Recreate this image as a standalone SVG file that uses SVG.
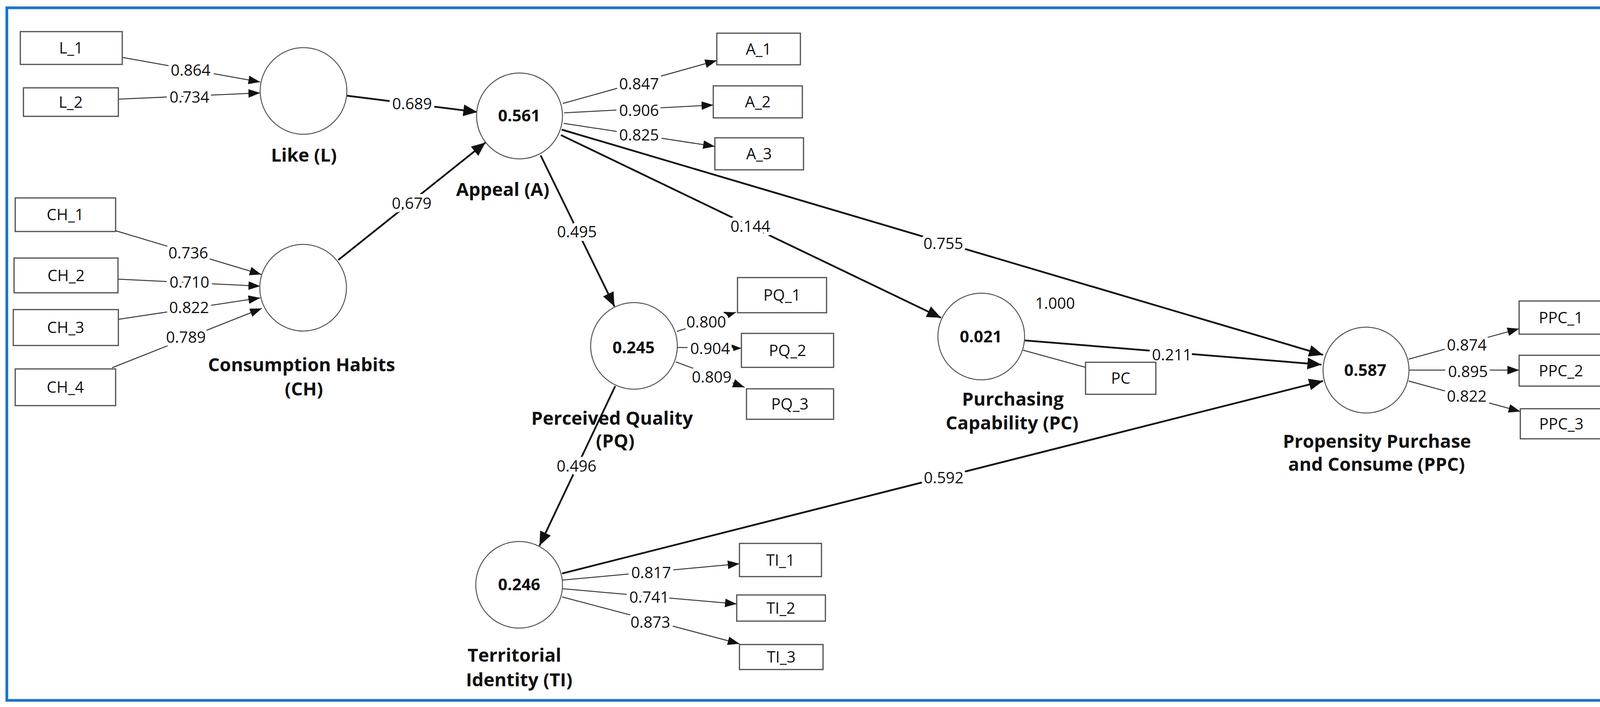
<svg xmlns="http://www.w3.org/2000/svg" width="4218" height="1811" viewBox="0 0 4218 1811">
<style>
.frame{fill:#fff;stroke:#1c74cc;stroke-width:7}
.box{fill:#fff;stroke:#4d4d4d;stroke-width:3}
.lv{fill:#fff;stroke:#555;stroke-width:2.5}
.ind{stroke:#3a3a3a;stroke-width:2.5;fill:none}
.str{stroke:#111;stroke-width:4.5;fill:none}
text{font-family:"Open Sans","Noto Sans","Liberation Sans",sans-serif;fill:#111}
.bt{font-size:40px;text-anchor:middle}
.num{font-size:40px;text-anchor:middle;stroke:#fff;stroke-width:18;paint-order:stroke;stroke-linejoin:round}
.val{font-size:42px;font-weight:bold;text-anchor:middle}
.name{font-size:47px;font-weight:bold;text-anchor:middle}
</style>
<defs>
<marker id="ah" markerUnits="userSpaceOnUse" markerWidth="40" markerHeight="32" refX="36" refY="15" orient="auto">
<path d="M0,0 L36,15 L0,30 z" fill="#111"/>
</marker>
<marker id="at" markerUnits="userSpaceOnUse" markerWidth="32" markerHeight="26" refX="30" refY="11" orient="auto">
<path d="M0,0 L30,11 L0,22 z" fill="#111"/>
</marker>
</defs>
<rect class="frame" x="17.5" y="20" width="4181" height="1774"/>
<g id="connectors">
<line class="ind" x1="313" y1="147" x2="666" y2="210" marker-end="url(#at)"/>
<line class="ind" x1="303" y1="254" x2="666" y2="238" marker-end="url(#at)"/>
<line class="ind" x1="296" y1="591" x2="669" y2="703" marker-end="url(#at)"/>
<line class="ind" x1="302" y1="715" x2="666" y2="733" marker-end="url(#at)"/>
<line class="ind" x1="303" y1="818" x2="666" y2="763" marker-end="url(#at)"/>
<line class="ind" x1="287" y1="942" x2="670" y2="790" marker-end="url(#at)"/>
<line class="ind" x1="1441" y1="265" x2="1835" y2="155" marker-end="url(#at)"/>
<line class="ind" x1="1444" y1="289" x2="1826" y2="269" marker-end="url(#at)"/>
<line class="ind" x1="1443" y1="316" x2="1830" y2="375" marker-end="url(#at)"/>
<line class="ind" x1="1733" y1="849" x2="1884" y2="800" marker-end="url(#at)"/>
<line class="ind" x1="1735" y1="890" x2="1898" y2="892" marker-end="url(#at)"/>
<line class="ind" x1="1730" y1="927" x2="1906" y2="992" marker-end="url(#at)"/>
<line class="ind" x1="1439" y1="1486" x2="1893" y2="1444" marker-end="url(#at)"/>
<line class="ind" x1="1439" y1="1508" x2="1886" y2="1547" marker-end="url(#at)"/>
<line class="ind" x1="1439" y1="1529" x2="1893" y2="1649" marker-end="url(#at)"/>
<line class="ind" x1="3606" y1="920" x2="3889" y2="842" marker-end="url(#at)"/>
<line class="ind" x1="3606" y1="948" x2="3889" y2="948" marker-end="url(#at)"/>
<line class="ind" x1="3606" y1="976" x2="3892" y2="1054" marker-end="url(#at)"/>
<line class="ind" x1="2619" y1="897" x2="2779" y2="941"/>
<line class="str" x1="887" y1="245" x2="1222" y2="287" marker-end="url(#ah)"/>
<line class="str" x1="866" y1="666" x2="1243" y2="365" marker-end="url(#ah)"/>
<line class="str" x1="1384" y1="398" x2="1573" y2="785" marker-end="url(#ah)"/>
<line class="str" x1="1436" y1="346" x2="2409" y2="814" marker-end="url(#ah)"/>
<line class="str" x1="1438" y1="332" x2="3387" y2="909" marker-end="url(#ah)"/>
<line class="str" x1="1575" y1="989" x2="1381" y2="1398" marker-end="url(#ah)"/>
<line class="str" x1="2623" y1="872" x2="3383" y2="934" marker-end="url(#ah)"/>
<line class="str" x1="1439" y1="1469" x2="3387" y2="976" marker-end="url(#ah)"/>
<g id="path-labels">
<text class="num" x="488" y="194">0.864</text>
<text class="num" x="485" y="263">0.734</text>
<text class="num" x="482" y="662">0.736</text>
<text class="num" x="485" y="737">0.710</text>
<text class="num" x="484" y="802">0.822</text>
<text class="num" x="476" y="878">0.789</text>
<text class="num" x="1055" y="280">0.689</text>
<text class="num" x="1054" y="535">0.679</text>
<text class="num" x="1636" y="229">0.847</text>
<text class="num" x="1636" y="297">0.906</text>
<text class="num" x="1636" y="360">0.825</text>
<text class="num" x="1477" y="608">0.495</text>
<text class="num" x="1921" y="594">0.144</text>
<text class="num" x="2415" y="638">0.755</text>
<text class="num" x="1808" y="839">0.800</text>
<text class="num" x="1818" y="907">0.904</text>
<text class="num" x="1822" y="980">0.809</text>
<text class="num" x="1476" y="1208">0.496</text>
<text class="num" x="1667" y="1481">0.817</text>
<text class="num" x="1662" y="1544">0.741</text>
<text class="num" x="1665" y="1608">0.873</text>
<text class="num" x="2701" y="791">1.000</text>
<text class="num" x="3000" y="923">0.211</text>
<text class="num" x="2416" y="1238">0.592</text>
<text class="num" x="3755" y="898">0.874</text>
<text class="num" x="3758" y="966">0.895</text>
<text class="num" x="3755" y="1029">0.822</text>
</g>
</g>
<g id="L_1"><rect class="box" x="52" y="81" width="261" height="84"/><text class="bt" x="182" y="137">L_1</text></g>
<g id="L_2"><rect class="box" x="60" y="225" width="243" height="73"/><text class="bt" x="181" y="276">L_2</text></g>
<g id="CH_1"><rect class="box" x="39" y="507" width="257" height="86"/><text class="bt" x="167" y="564">CH_1</text></g>
<g id="CH_2"><rect class="box" x="36" y="661" width="266" height="89"/><text class="bt" x="169" y="720">CH_2</text></g>
<g id="CH_3"><rect class="box" x="34" y="793" width="269" height="92"/><text class="bt" x="168" y="853">CH_3</text></g>
<g id="CH_4"><rect class="box" x="39" y="945" width="257" height="94"/><text class="bt" x="167" y="1006">CH_4</text></g>
<g id="A_1"><rect class="box" x="1835" y="85" width="214" height="81"/><text class="bt" x="1942" y="140">A_1</text></g>
<g id="A_2"><rect class="box" x="1826" y="220" width="228" height="82"/><text class="bt" x="1940" y="275">A_2</text></g>
<g id="A_3"><rect class="box" x="1830" y="353" width="227" height="82"/><text class="bt" x="1943" y="408">A_3</text></g>
<g id="PQ_1"><rect class="box" x="1888" y="711" width="228" height="90"/><text class="bt" x="2002" y="770">PQ_1</text></g>
<g id="PQ_2"><rect class="box" x="1898" y="854" width="236" height="87"/><text class="bt" x="2016" y="912">PQ_2</text></g>
<g id="PQ_3"><rect class="box" x="1911" y="996" width="223" height="78"/><text class="bt" x="2022" y="1049">PQ_3</text></g>
<g id="TI_1"><rect class="box" x="1893" y="1392" width="210" height="85"/><text class="bt" x="1998" y="1449">TI_1</text></g>
<g id="TI_2"><rect class="box" x="1886" y="1524" width="227" height="67"/><text class="bt" x="1999" y="1572">TI_2</text></g>
<g id="TI_3"><rect class="box" x="1893" y="1651" width="214" height="64"/><text class="bt" x="2000" y="1697">TI_3</text></g>
<g id="PC_ind"><rect class="box" x="2779" y="928" width="180" height="82"/><text class="bt" x="2869" y="983">PC</text></g>
<g id="PPC_1"><rect class="box" x="3889" y="771" width="214" height="85"/><text class="bt" x="3996" y="828">PPC_1</text></g>
<g id="PPC_2"><rect class="box" x="3889" y="910" width="214" height="79"/><text class="bt" x="3996" y="964">PPC_2</text></g>
<g id="PPC_3"><rect class="box" x="3892" y="1047" width="211" height="77"/><text class="bt" x="3997" y="1100">PPC_3</text></g>
<g id="Like"><circle class="lv" cx="777" cy="233" r="111"/><text class="name" x="778" y="414">Like (L)</text></g>
<g id="CH"><circle class="lv" cx="776" cy="737" r="111"/><text class="name" x="772" y="951">Consumption Habits</text><text class="name" x="778" y="1013">(CH)</text></g>
<g id="Appeal"><circle class="lv" cx="1330" cy="297" r="110"/><text class="val" x="1329" y="311">0.561</text><text class="name" x="1287" y="502">Appeal (A)</text></g>
<g id="PQ"><circle class="lv" cx="1623" cy="886" r="111"/><text class="val" x="1622" y="905">0.245</text><text class="name" x="1567" y="1088">Perceived Quality</text><text class="name" x="1575" y="1146">(PQ)</text></g>
<g id="TI"><circle class="lv" cx="1329" cy="1498" r="111"/><text class="val" x="1329" y="1512">0.246</text><text class="name" x="1317" y="1695">Territorial</text><text class="name" x="1329" y="1758">Identity (TI)</text></g>
<g id="PC"><circle class="lv" cx="2512" cy="862" r="111"/><text class="val" x="2511" y="877">0.021</text><text class="name" x="2593" y="1039">Purchasing</text><text class="name" x="2591" y="1100">Capability (PC)</text></g>
<g id="PPC"><circle class="lv" cx="3497" cy="948" r="110"/><text class="val" x="3495" y="963">0.587</text><text class="name" x="3525" y="1147">Propensity Purchase</text><text class="name" x="3524" y="1206">and Consume (PPC)</text></g>
</svg>
